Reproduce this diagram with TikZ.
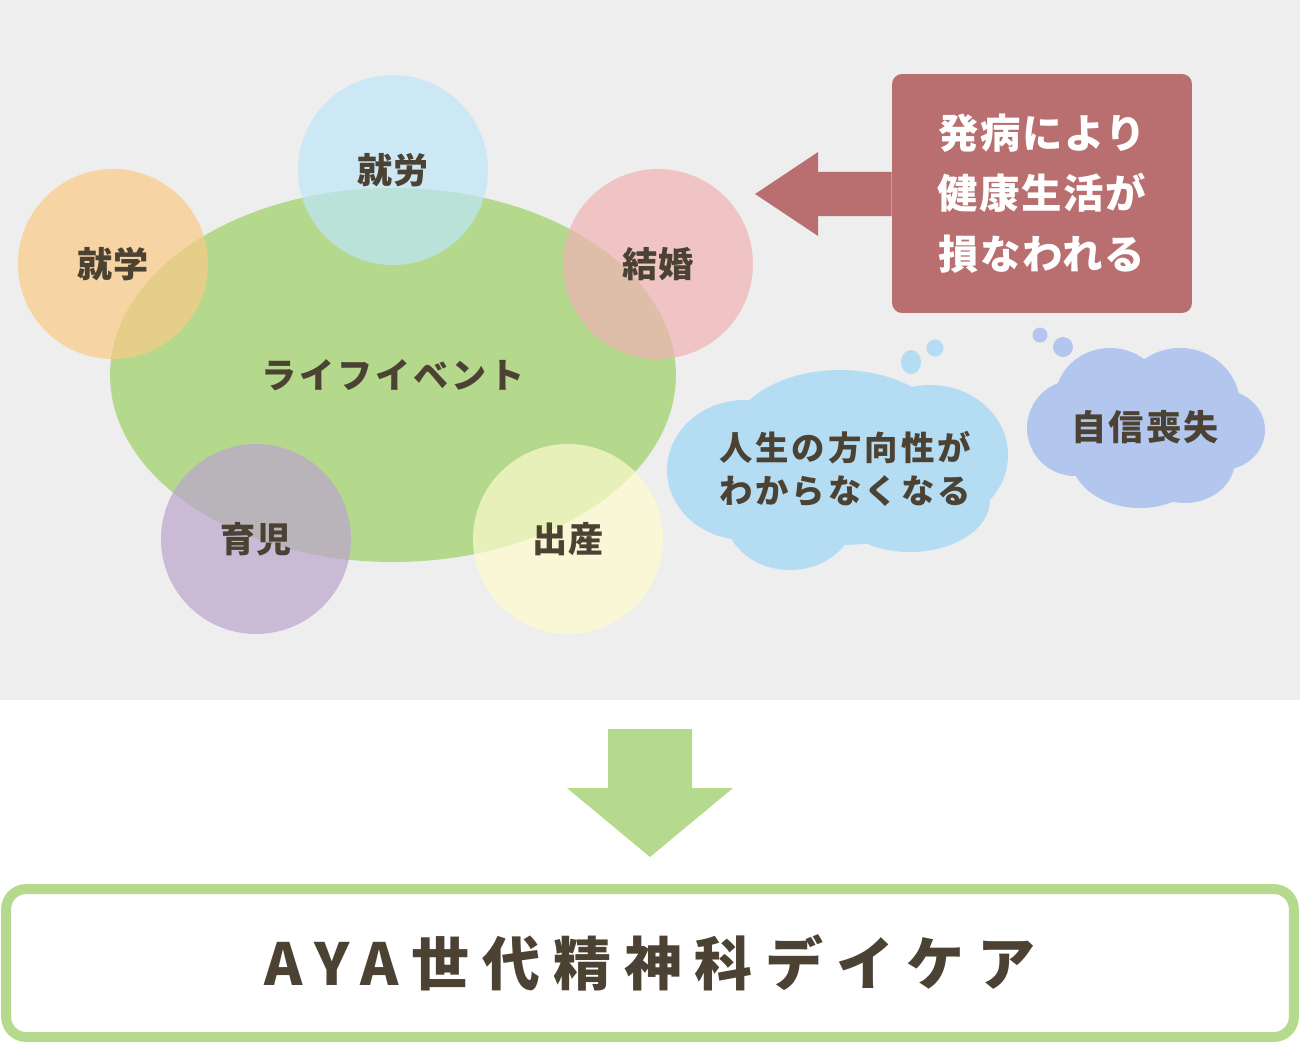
\documentclass[tikz,border=0pt]{standalone}
\usepackage{fontspec}
\setmainfont{Noto Sans CJK JP}
\usetikzlibrary{shapes.geometric}
\definecolor{bgc}{HTML}{EEEEEE}
\definecolor{lifegreen}{RGB}{180,217,141}
\definecolor{cblue}{RGB}{191,230,248}
\definecolor{corange}{RGB}{250,202,133}
\definecolor{cpink}{RGB}{241,178,181}
\definecolor{cpurple}{RGB}{188,165,205}
\definecolor{cyellow}{RGB}{255,251,205}
\definecolor{redc}{RGB}{185,110,112}
\definecolor{cloudblue}{RGB}{180,220,242}
\definecolor{cloudpurple}{RGB}{179,198,238}
\definecolor{txt}{RGB}{75,66,52}
\definecolor{agreen}{RGB}{181,218,142}
\newcommand{\medfont}[2]{\fontsize{#1}{#2}\selectfont\bfseries}
\tikzset{
  evcircle/.style={circle, minimum size=3.8cm, inner sep=0pt, fill opacity=0.7, text opacity=1, text=txt, font=\medfont{20}{24}\addfontfeature{LetterSpace=3}},
  cloudtxt/.style={text=txt, align=center, font=\medfont{19}{24}\addfontfeature{LetterSpace=9}},
}
\begin{document}
\begin{tikzpicture}[x=0.02cm,y=-0.02cm]
\useasboundingbox (0,0) rectangle (1300,1044);
\fill[bgc] (0,0) rectangle (1300,700);

% life event ellipse
\node[ellipse, fill=lifegreen, minimum width=11.32cm, minimum height=7.48cm, inner sep=0pt, text=txt,
  font=\medfont{20}{24}\addfontfeature{LetterSpace=8}] (life) at (393,375) {ライフイベント};

% event circles
\node[evcircle, fill=cblue]   (work)    at (393,170) {就労};
\node[evcircle, fill=corange] (school)  at (113,264) {就学};
\node[evcircle, fill=cpink]   (marry)   at (658,264) {結婚};
\node[evcircle, fill=cpurple] (child)   at (256,539) {育児};
\node[evcircle, fill=cyellow] (birth)   at (568,539) {出産};

% red box and arrow
\node[fill=redc, rounded corners=0.2cm, minimum width=6cm, minimum height=4.78cm, inner sep=0pt,
  text=white, align=center, font=\medfont{23}{34.5}\addfontfeature{LetterSpace=4}] (warn) at (1042,193.5)
  {発病により\\健康生活が\\損なわれる};
\fill[redc] (warn.west |- 0,172) -- (818,172) -- (818,152) -- (755,194) -- (818,236) -- (818,216) -- (warn.west |- 0,216) -- cycle;

% blue cloud
\begin{scope}[cloudblue]
\fill (745,470) ellipse [x radius=78, y radius=70];
\fill (840,440) ellipse [x radius=110, y radius=70];
\fill (930,455) ellipse [x radius=78, y radius=70];
\fill (790,515) ellipse [x radius=65, y radius=55];
\fill (910,500) ellipse [x radius=80, y radius=52];
\fill (840,470) ellipse [x radius=140, y radius=75];
\fill (911,362) ellipse [x radius=10, y radius=12];
\fill (935,348) circle [radius=8.5];
\end{scope}
\node[cloudtxt] (lost) at (845,469) {人生の方向性が\\わからなくなる};

% purple cloud
\begin{scope}[cloudpurple]
\fill (1075,428) ellipse [x radius=48, y radius=48];
\fill (1110,400) ellipse [x radius=55, y radius=52];
\fill (1180,405) ellipse [x radius=60, y radius=57];
\fill (1222,430) ellipse [x radius=43, y radius=40];
\fill (1140,455) ellipse [x radius=70, y radius=53];
\fill (1185,460) ellipse [x radius=50, y radius=43];
\fill (1145,430) ellipse [x radius=90, y radius=55];
\fill (1040,335) circle [radius=7.5];
\fill (1063,347) circle [radius=10];
\end{scope}
\node[cloudtxt, font=\medfont{20}{24}\addfontfeature{LetterSpace=6}] (conf) at (1145,427) {自信喪失};

% green arrow
\coordinate (atop) at (650,729);
\fill[agreen] (608,729) -- (692,729) -- (692,788) -- (733,788) -- (650,857) -- (567,788) -- (608,788) -- cycle;

% bottom box
\node[draw=agreen, line width=5.67pt, rounded corners=0.4cm, fill=white, minimum width=25.76cm, minimum height=2.96cm,
  inner sep=0pt, text=txt, font=\medfont{33}{40}\addfontfeature{LetterSpace=22}] (aya) at (650,963)
  {AYA世代精神科デイケア};
\end{tikzpicture}
\end{document}
